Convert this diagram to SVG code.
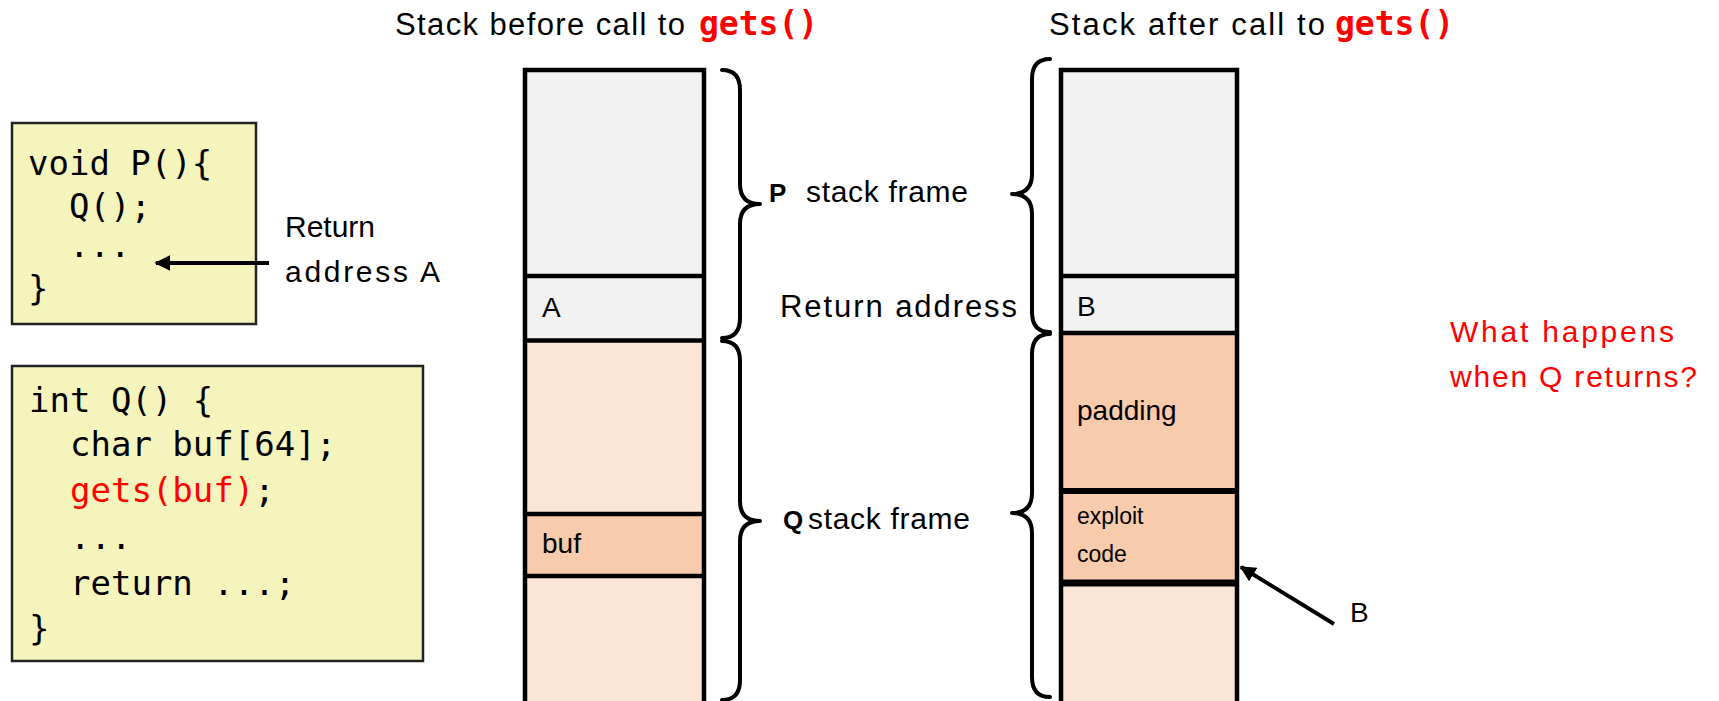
<svg xmlns="http://www.w3.org/2000/svg" width="1719" height="701" viewBox="0 0 1719 701">
<style>
.code{font-family:"DejaVu Sans Mono","Liberation Mono",monospace;font-size:34px;fill:#000}
.hand{font-family:"Liberation Sans","DejaVu Sans",sans-serif;font-size:28px;fill:#000}
.mono{font-family:"DejaVu Sans Mono","Liberation Mono",monospace;font-weight:bold;fill:#ff0000;font-size:33px}
.red{fill:#ff0000}
.box{fill:#F6F4BD;stroke:#222;stroke-width:2.5}
.gray{fill:#F2F2F2}
.lpeach{fill:#FBE5D6}
.dpeach{fill:#F8CBAD}
.edge{stroke:#000;stroke-width:4.5;fill:none}
.brace{stroke:#000;stroke-width:4;fill:none;stroke-linecap:round;stroke-linejoin:round}
.arrow{stroke:#000;stroke-width:4;fill:none}
.bold{font-family:"Liberation Sans","DejaVu Sans",sans-serif;font-weight:bold;font-size:26px}
</style>
<defs>
<marker id="ah" viewBox="0 0 10 10" refX="9" refY="5" markerWidth="4" markerHeight="4" orient="auto" markerUnits="strokeWidth">
<path d="M0,0 L10,5 L0,10 z" fill="#000"/>
</marker>
</defs>
<rect width="1719" height="701" fill="#fff"/>

<g id="titles">
<text x="395" y="35" class="hand" style="font-size:31px"><tspan textLength="290">Stack before call to</tspan> <tspan x="699" class="mono">gets()</tspan></text>
<text x="1049" y="35" class="hand" style="font-size:31px"><tspan textLength="276">Stack after call to</tspan> <tspan x="1335" class="mono">gets()</tspan></text>
</g>

<g id="codeP">
<rect class="box" x="12" y="123" width="244" height="201"/>
<text class="code" x="28" y="175">void P(){</text>
<text class="code" x="69" y="218">Q();</text>
<text class="code" x="69" y="257">...</text>
<text class="code" x="28" y="300">}</text>
</g>

<g id="codeQ">
<rect class="box" x="12" y="366" width="411" height="295"/>
<text class="code" x="29" y="412">int Q() {</text>
<text class="code" x="70" y="456">char buf[64];</text>
<text class="code" x="70" y="502"><tspan class="red">gets(buf)</tspan>;</text>
<text class="code" x="70" y="549">...</text>
<text class="code" x="70" y="595">return ...;</text>
<text class="code" x="29" y="640">}</text>
</g>

<g id="retlabel">
<text class="hand" x="285" y="237" style="font-size:30px">Return</text>
<text class="hand" x="285" y="282" style="font-size:30px" textLength="155">address A</text>
</g>

<g id="stackBefore">
<rect class="gray" x="525" y="70" width="179" height="270"/>
<rect class="lpeach" x="525" y="340" width="179" height="174"/>
<rect class="dpeach" x="525" y="514" width="179" height="62"/>
<rect class="lpeach" x="525" y="576" width="179" height="140"/>
<path class="edge" d="M525,720 L525,70 L704,70 L704,720"/>
<line class="edge" x1="525" y1="276" x2="704" y2="276"/>
<line class="edge" x1="525" y1="340.5" x2="704" y2="340.5"/>
<line class="edge" x1="525" y1="514" x2="704" y2="514"/>
<line class="edge" x1="525" y1="576" x2="704" y2="576"/>
<text class="hand" x="542" y="317">A</text>
<text class="hand" x="542" y="553">buf</text>
</g>

<g id="stackAfter">
<rect class="gray" x="1061" y="70" width="176" height="263"/>
<rect class="dpeach" x="1061" y="333" width="176" height="250"/>
<rect class="lpeach" x="1061" y="583" width="176" height="140"/>
<path class="edge" d="M1061,720 L1061,70 L1237,70 L1237,720"/>
<line class="edge" x1="1061" y1="276" x2="1237" y2="276"/>
<line class="edge" x1="1061" y1="333" x2="1237" y2="333"/>
<line class="edge" x1="1061" y1="491" x2="1237" y2="491" style="stroke-width:6px"/>
<line class="edge" x1="1061" y1="583" x2="1237" y2="583" style="stroke-width:7px"/>
<text class="hand" x="1077" y="316">B</text>
<text class="hand" x="1077" y="420">padding</text>
<text class="hand" x="1077" y="524" style="font-size:23px">exploit</text>
<text class="hand" x="1077" y="562" style="font-size:23px">code</text>
</g>

<g id="braces">
<path class="brace" d="M722,70 Q740,70 740,90 L740,184 Q740,204 760,204 Q740,204 740,224 L740,318 Q740,338 722,338"/>
<path class="brace" d="M722,341 Q740,341 740,361 L740,501 Q740,521 760,521 Q740,521 740,541 L740,680 Q740,700 722,700"/>
<path class="brace" d="M1050,59 Q1032,59 1032,79 L1032,174 Q1032,194 1012,194 Q1032,194 1032,214 L1032,312 Q1032,332 1050,332"/>
<path class="brace" d="M1050,334 Q1032,334 1032,354 L1032,493 Q1032,513 1012,513 Q1032,513 1032,533 L1032,677 Q1032,697 1050,697"/>
</g>

<g id="frameLabels">
<text class="bold" x="769" y="202">P</text>
<text class="hand" x="806" y="202" style="font-size:30px" textLength="162">stack frame</text>
<text class="hand" x="780" y="317" style="font-size:31px" textLength="237">Return address</text>
<text class="bold" x="783" y="529">Q</text>
<text class="hand" x="808" y="529" style="font-size:30px" textLength="162">stack frame</text>
</g>

<g id="connectors">
<line class="arrow" x1="269" y1="263" x2="156" y2="263" marker-end="url(#ah)"/>
<line class="arrow" x1="1334" y1="624" x2="1241" y2="567" marker-end="url(#ah)"/>
</g>

<g id="labelB">
<text class="hand" x="1350" y="622">B</text>
</g>

<g id="question">
<text class="hand red" x="1450" y="342" style="font-size:30px" textLength="224">What happens</text>
<text class="hand red" x="1450" y="387" style="font-size:30px" textLength="247">when Q returns?</text>
</g>
</svg>
